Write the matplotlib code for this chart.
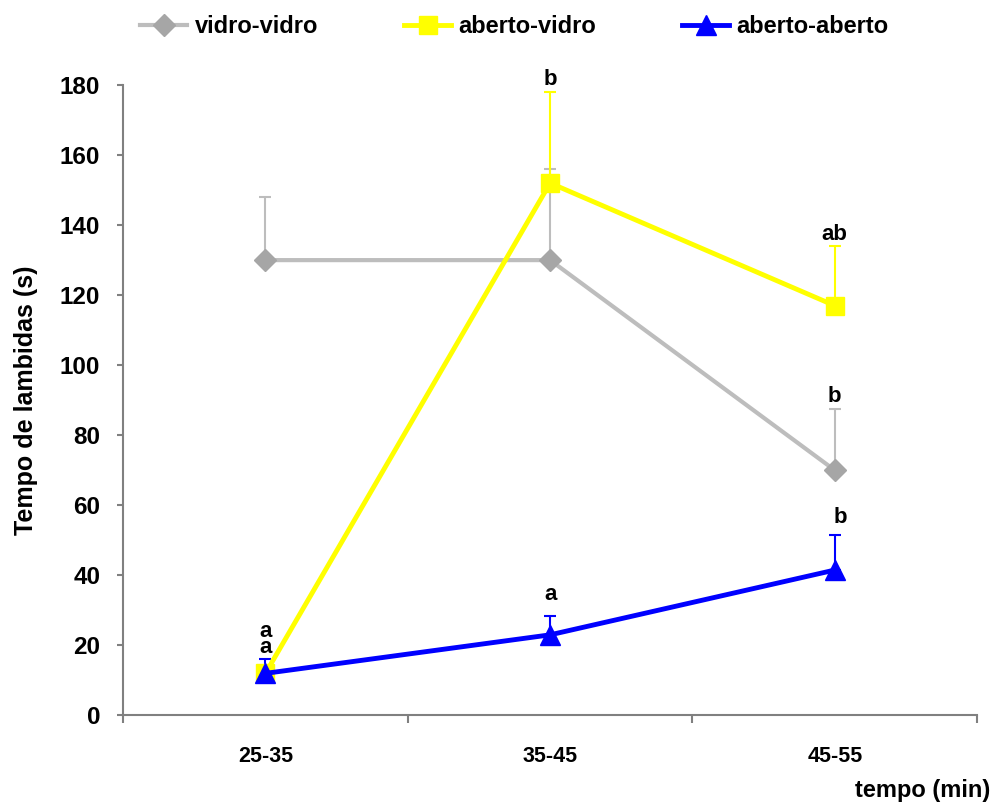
import matplotlib.pyplot as plt
from matplotlib.ticker import FixedLocator

plt.rcParams['font.family'] = ['Liberation Sans', 'DejaVu Sans']
plt.rcParams['font.weight'] = 'bold'

periodos = ['25-35', '35-45', '45-55']

vidro_vidro = [130, 130, 70]
vidro_vidro_err = [18, 26, 17.5]

aberto_vidro = [12, 152, 117]
aberto_vidro_err = [0, 26, 17]

aberto_aberto = [12, 23, 41.5]
aberto_aberto_err = [4, 5.5, 10]

# letras de significância (texto, índice, linha de base em y, deslocamento em x)
letras = [
    ('a\na', 0, 17.7, 0.0),
    ('b', 1, 180, 0.0),
    ('ab', 2, 135.7, 0.0),
    ('b', 2, 89.4, 0.0),
    ('b', 2, 55, 0.018),
    ('a', 1, 32.9, 0.0),
]

x = range(len(periodos))

fig = plt.figure(figsize=(9.93, 8.02), dpi=100)
ax = fig.add_axes([0.124, 0.108, 0.860, 0.786])

series = [
    (vidro_vidro, vidro_vidro_err, '#bdbdbd', 'D', 11, 'vidro-vidro', '#a6a6a6', 3),
    (aberto_vidro, aberto_vidro_err, '#ffff00', 's', 13, 'aberto-vidro', '#ffff00', 3.5),
    (aberto_aberto, aberto_aberto_err, '#0000ff', '^', 14, 'aberto-aberto', '#0000ff', 3.5),
]

for vals, err, cor, mk, ms, nome, cor_mk, lw in series:
    ax.errorbar(x, vals, yerr=[[0] * len(err), err], fmt='none',
                ecolor=cor, elinewidth=1.5, capsize=4.5, capthick=1.5, zorder=2)
    ax.plot(x, vals, color=cor, lw=lw, marker=mk, ms=ms,
            mfc=cor_mk, mec=cor_mk, label=nome, zorder=3)

for txt, i, y, dx in letras:
    ax.text(i + dx, y, txt, ha='center', va='baseline', fontsize=16,
            fontweight='bold', linespacing=0.72)

ax.set_xlim(-0.5, 2.5)
ax.set_ylim(0, 180)
ax.set_yticks(range(0, 181, 20))
ax.set_xticks(list(x))
ax.set_xticklabels(periodos)
ax.xaxis.set_minor_locator(FixedLocator([-0.5, 0.5, 1.5, 2.5]))
ax.tick_params(axis='x', which='major', length=0, pad=22, labelsize=15.5)
ax.tick_params(axis='x', which='minor', length=6, color='#808080', width=1.5)
ax.tick_params(axis='y', length=4, color='#808080', width=1.5, labelsize=17.5, pad=12.5)

for lado in ['top', 'right']:
    ax.spines[lado].set_visible(False)
for lado in ['left', 'bottom']:
    ax.spines[lado].set_color('#808080')
    ax.spines[lado].set_linewidth(1.5)

ax.set_ylabel('Tempo de lambidas (s)', fontsize=18, fontweight='bold', labelpad=16)
fig.text(0.997, 0.0, 'tempo (min)', ha='right', va='bottom', fontsize=17, fontweight='bold')

fig.legend(loc='upper center', bbox_to_anchor=(0.518, 1.008), ncol=3, frameon=False,
           fontsize=17, handlelength=2.0, columnspacing=3.65, handletextpad=0.3)

fig.savefig('out.png', dpi=100)
